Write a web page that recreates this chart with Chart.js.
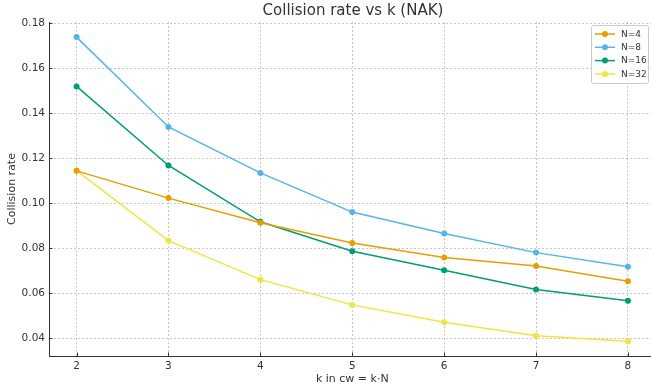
<!DOCTYPE html>
<html>
<head>
<meta charset="utf-8">
<script src="https://cdn.jsdelivr.net/npm/chart.js@4.4.0/dist/chart.umd.min.js"></script>
<style>
  html, body { margin: 0; padding: 0; background: #fff; overflow: hidden; }
  #wrap { width: 651px; height: 388px; overflow: hidden; }
</style>
</head>
<body>
<div id="wrap"><canvas id="chart" width="660" height="388"></canvas></div>
<script>
// Data
const kValues = [2, 3, 4, 5, 6, 7, 8];
const seriesNames = ['N=4', 'N=8', 'N=16', 'N=32'];
const rateN4  = [0.1144, 0.1023, 0.0914, 0.0824, 0.0759, 0.0722, 0.0654];
const rateN8  = [0.1738, 0.1339, 0.1135, 0.0961, 0.0866, 0.0781, 0.0718];
const rateN16 = [0.1519, 0.1168, 0.0918, 0.0787, 0.0703, 0.0617, 0.0567];
const rateN32 = [0.1145, 0.0834, 0.0661, 0.0549, 0.0472, 0.0412, 0.0388];
const yTicks = [0.04, 0.06, 0.08, 0.10, 0.12, 0.14, 0.16, 0.18];
const seriesColors = ['#E69F00', '#56B4E9', '#009E73', '#F0E442'];

const FONT = "'DejaVu Sans', sans-serif";
const TEXT = '#333333';

function makeSet(label, values, color) {
    return {
        label: label,
        data: kValues.map((k, i) => ({ x: k, y: values[i] })),
        borderColor: color,
        backgroundColor: color,
        borderWidth: 1.5,
        pointRadius: 3,
        pointBorderWidth: 0,
        tension: 0
    };
}

// title, inward tick marks and a matplotlib style legend inside the plot
const extras = {
    id: 'extras',
    afterDraw(chart) {
        const ctx = chart.ctx;
        const area = chart.chartArea;
        const xs = chart.scales.x, ys = chart.scales.y;
        ctx.save();

        // inward ticks
        ctx.strokeStyle = '#333';
        ctx.lineWidth = 1;
        ctx.beginPath();
        kValues.forEach(k => {
            const px = Math.round(xs.getPixelForValue(k)) + 0.5;
            ctx.moveTo(px, area.bottom);
            ctx.lineTo(px, area.bottom - 3.5);
        });
        yTicks.forEach(v => {
            const py = Math.round(ys.getPixelForValue(v)) + 0.5;
            ctx.moveTo(area.left, py);
            ctx.lineTo(area.left + 3.5, py);
        });
        ctx.stroke();

        ctx.fillStyle = TEXT;
        ctx.font = '15px ' + FONT;
        ctx.textAlign = 'center';
        ctx.textBaseline = 'middle';
        ctx.fillText('Collision rate vs k (NAK)', 353, 11);

        // legend box
        const bx = 591.5, by = 25.5, bw = 57, bh = 58;
        ctx.fillStyle = 'rgba(255,255,255,0.85)';
        ctx.strokeStyle = '#cccccc';
        ctx.lineWidth = 1;
        ctx.beginPath();
        ctx.roundRect(bx, by, bw, bh, 2);
        ctx.fill();
        ctx.stroke();

        ctx.font = '9px ' + FONT;
        ctx.textAlign = 'left';
        chart.data.datasets.forEach((ds, i) => {
            const y = 34 + i * 13.3;
            ctx.strokeStyle = ds.borderColor;
            ctx.lineWidth = 1.5;
            ctx.beginPath();
            ctx.moveTo(595, y);
            ctx.lineTo(615, y);
            ctx.stroke();
            ctx.fillStyle = ds.borderColor;
            ctx.beginPath();
            ctx.arc(605, y, 3, 0, Math.PI * 2);
            ctx.fill();
            ctx.fillStyle = TEXT;
            ctx.fillText(ds.label, 621, y + 0.5);
        });
        ctx.restore();
    }
};

const gridOpts = { color: 'rgba(0,0,0,0.28)', lineWidth: 0.8, drawTicks: false };

new Chart(document.getElementById('chart'), {
    type: 'line',
    data: {
        datasets: [
            makeSet(seriesNames[0], rateN4, seriesColors[0]),
            makeSet(seriesNames[1], rateN8, seriesColors[1]),
            makeSet(seriesNames[2], rateN16, seriesColors[2]),
            makeSet(seriesNames[3], rateN32, seriesColors[3])
        ]
    },
    options: {
        responsive: false,
        animation: false,
        events: [],
        layout: { padding: { top: 22, right: 4.5, bottom: 0, left: 0 } },
        plugins: {
            legend: { display: false },
            title: { display: false },
            tooltip: { enabled: false }
        },
        scales: {
            x: {
                type: 'linear',
                min: 1.7,
                max: 8.3,
                afterBuildTicks: (s) => { s.ticks = kValues.map(v => ({ value: v })); },
                afterFit: (s) => { s.height = 32; },
                ticks: { color: TEXT, font: { family: FONT, size: 10.5 }, padding: 4, maxRotation: 0 },
                grid: gridOpts,
                border: { color: '#333', width: 1, dash: [2, 2] },
                title: { display: true, text: 'k in cw = k·N', color: TEXT, font: { family: FONT, size: 11 }, padding: { top: 0, bottom: 2.5 } }
            },
            y: {
                min: 0.0322,
                max: 0.1805,
                afterBuildTicks: (s) => { s.ticks = yTicks.map(v => ({ value: v })); },
                afterFit: (s) => { s.width = 49; },
                ticks: { color: TEXT, font: { family: FONT, size: 10.5 }, padding: 4, callback: (v) => v.toFixed(2) },
                grid: gridOpts,
                border: { color: '#333', width: 1, dash: [2, 2] },
                title: { display: true, text: 'Collision rate', color: TEXT, font: { family: FONT, size: 11 }, padding: { top: 6, bottom: 0 } }
            }
        }
    },
    plugins: [extras]
});
</script>
</body>
</html>
